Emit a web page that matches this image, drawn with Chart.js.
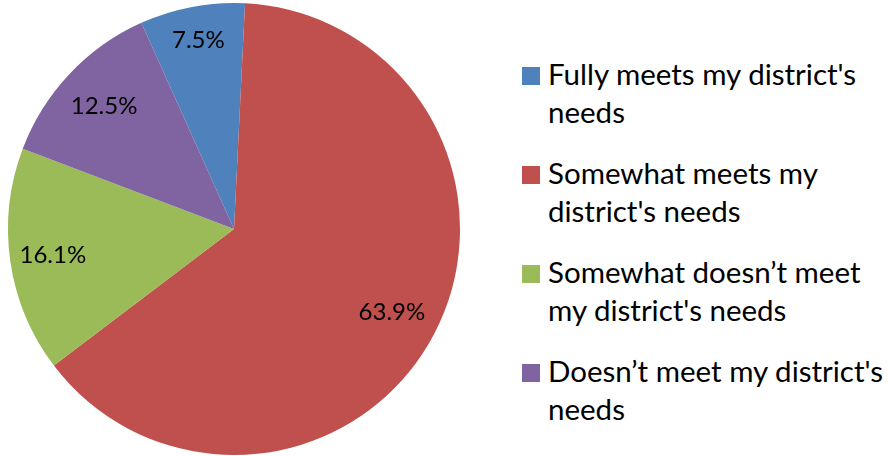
<!DOCTYPE html>
<html>
<head>
<meta charset="utf-8">
<script src="https://cdn.jsdelivr.net/npm/chart.js@4.4.1/dist/chart.umd.min.js"></script>
<style>
  html, body { margin: 0; padding: 0; background: #fff; }
  #wrap { position: relative; width: 888px; height: 456px; }
  #pieBox { position: absolute; left: 0; top: 0; width: 468px; height: 456px; }
  #legend { position: absolute; left: 522px; top: 55px; font-family: Lato, "Open Sans", sans-serif; font-size: 29.5px; line-height: 38px; color: #000; white-space: nowrap; }
  .item { position: relative; padding-left: 26px; margin-bottom: 23px; }
  .swatch { position: absolute; left: 0; top: 12px; width: 18px; height: 18px; }
</style>
</head>
<body>
<div id="wrap">
  <div id="pieBox"><canvas id="pieChart"></canvas></div>
  <div id="legend"></div>
</div>
<script>
// Survey responses, in percent
const categories = [
    ["Fully meets my district's", "needs"],
    ["Somewhat meets my", "district's needs"],
    ["Somewhat doesn\u2019t meet", "my district's needs"],
    ["Doesn\u2019t meet my district's", "needs"]
];
const shares = [7.5, 63.9, 16.1, 12.5];
const sliceColors = ['#4F81BD', '#C0504D', '#9BBB59', '#8064A2'];

// Writes the percentage inside each slice, out towards the rim
const sliceLabels = {
    id: 'sliceLabels',
    afterDatasetsDraw(chart, args, opts) {
        const ctx = chart.ctx;
        const meta = chart.getDatasetMeta(0);
        ctx.save();
        ctx.font = '24px Lato, "Open Sans", sans-serif';
        ctx.fillStyle = '#000';
        ctx.textAlign = 'center';
        ctx.textBaseline = 'middle';
        meta.data.forEach((arc, i) => {
            const mid = (arc.startAngle + arc.endAngle) / 2;
            const r = arc.outerRadius * opts.reach[i];
            const x = arc.x + Math.cos(mid) * r;
            const y = arc.y + Math.sin(mid) * r;
            ctx.fillText(shares[i].toFixed(1) + '%', x, y);
        });
        ctx.restore();
    }
};

new Chart(document.getElementById('pieChart'), {
    type: 'pie',
    data: {
        labels: categories.map(c => c.join(' ')),
        datasets: [{
            data: shares,
            backgroundColor: sliceColors,
            borderWidth: 0
        }]
    },
    options: {
        responsive: true,
        maintainAspectRatio: false,
        animation: false,
        rotation: -24.2,
        layout: { padding: { left: 8, right: 8, top: 3, bottom: 1 } },
        plugins: {
            legend: { display: false },
            tooltip: { enabled: false },
            // the thin slice gets its label pushed a little further out
            sliceLabels: { reach: [0.85, 0.79, 0.81, 0.79] }
        }
    },
    plugins: [sliceLabels]
});

// Legend built as plain text beside the pie
const legend = document.getElementById('legend');
categories.forEach((lines, i) => {
    const item = document.createElement('div');
    item.className = 'item';
    item.innerHTML = `<span class="swatch" style="background:${sliceColors[i]}"></span>${lines.join('<br>')}`;
    legend.appendChild(item);
});
</script>
</body>
</html>
